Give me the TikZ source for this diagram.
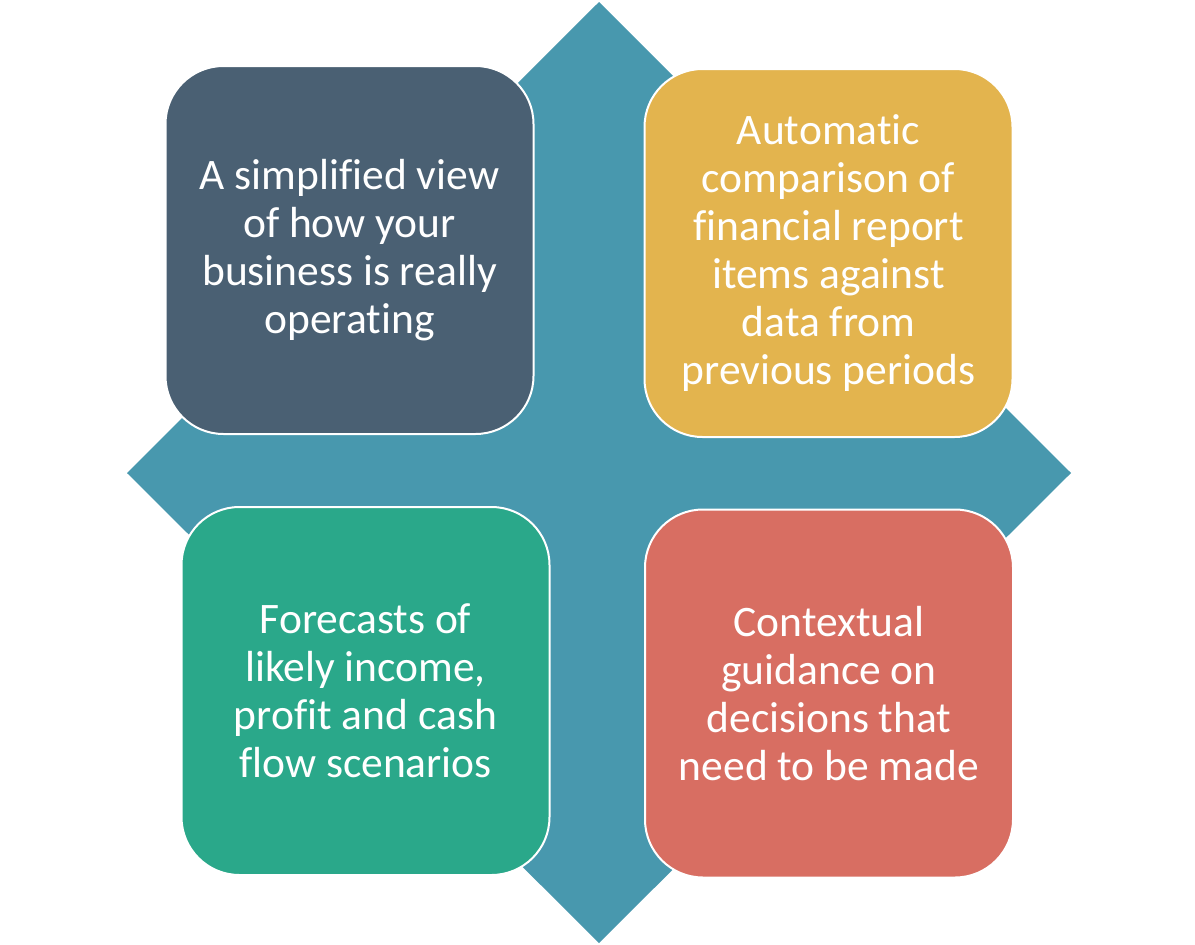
\documentclass[tikz,border=0pt]{standalone}
\usepackage{fontspec}
\setmainfont{Carlito}[Ligatures=NoCommon]
\usepackage{xcolor}
\definecolor{crossteal}{RGB}{72, 152, 174}
\definecolor{cardslate}{RGB}{74, 96, 115}
\definecolor{cardgold}{RGB}{227, 180, 78}
\definecolor{cardgreen}{RGB}{42, 168, 138}
\definecolor{cardred}{RGB}{216, 110, 98}

\begin{document}
\begin{tikzpicture}[x=1pt, y=-1pt,
    card/.style={rounded corners=58pt, draw=white, line width=2pt,
      minimum width=368pt, minimum height=368pt, inner sep=0pt,
      text=white, align=center, font=\fontsize{43.5}{48}\selectfont}]
    \useasboundingbox (0, 0) rectangle (1195, 945);
    % cross behind the cards
    \fill[crossteal] (599, 2) -- (1071, 473) -- (599, 943) -- (127, 473) -- cycle;
    \node[card, fill=cardslate] (view) at (349.5, 250) {A simplified view\\of how your\\business is really\\operating};
    \node[card, fill=cardgold] (compare) at (828.5, 253) {Automatic\\comparison of\\financial report\\items against\\data from\\previous periods};
    \node[card, fill=cardgreen] (forecast) at (365.5, 691) {Forecasts of\\likely income,\\profit and cash\\flow scenarios};
    \node[card, fill=cardred] (guide) at (829, 693.5) {Contextual\\guidance on\\decisions that\\need to be made};
  \end{tikzpicture}
\end{document}
